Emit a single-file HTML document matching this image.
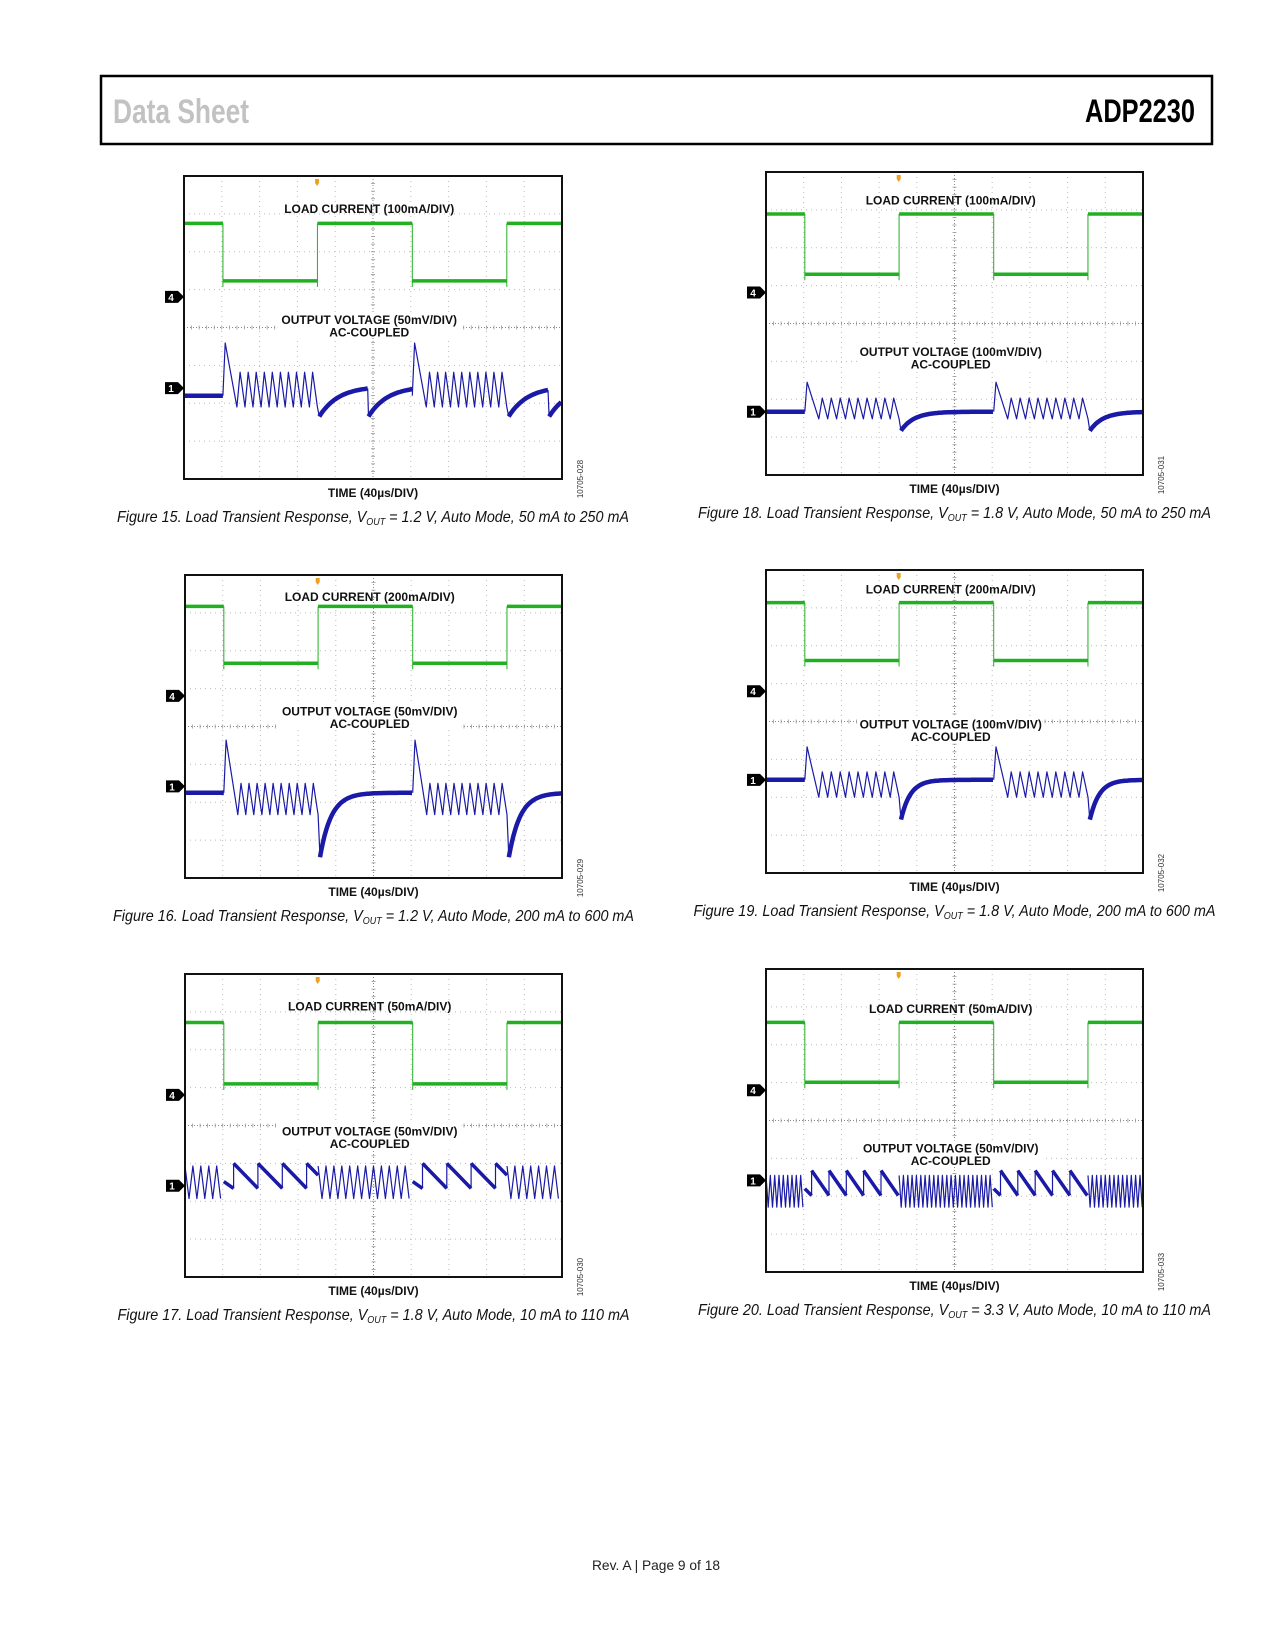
<!DOCTYPE html>
<html><head><meta charset="utf-8"><title>ADP2230 Data Sheet page 9</title>
<style>
html,body{margin:0;padding:0;background:#fff;}
svg{display:block;}
</style></head>
<body>
<svg id="page" width="1275" height="1650" viewBox="0 0 1275 1650">
  <rect x="0" y="0" width="1275" height="1650" fill="#fff"/>
  <rect x="101" y="76" width="1111" height="68" fill="none" stroke="#000" stroke-width="2.5"/>
  <text x="113" y="123" font-family="Liberation Sans, sans-serif" font-weight="bold" font-size="34" fill="#c2c2c2" textLength="136" lengthAdjust="spacingAndGlyphs">Data Sheet</text>
  <text x="1085" y="122" font-family="Liberation Sans, sans-serif" font-weight="bold" font-size="32" fill="#000" textLength="110" lengthAdjust="spacingAndGlyphs">ADP2230</text>
  <text x="592" y="1570" font-family="Liberation Sans, sans-serif" font-size="14" fill="#222" textLength="128" lengthAdjust="spacingAndGlyphs">Rev. A | Page 9 of 18</text>
</svg>
<script>
// ---- chart data (divisions: time 0..10, vertical 0..8 from top) ----
const figIds = ['15', '16', '17', '18', '19', '20'];
const vout = ['1.2', '1.2', '1.8', '1.8', '1.8', '3.3'];
const loadRange = ['50 mA to 250 mA', '200 mA to 600 mA', '10 mA to 110 mA', '50 mA to 250 mA', '200 mA to 600 mA', '10 mA to 110 mA'];
const currentScale = ['100mA/DIV', '200mA/DIV', '50mA/DIV', '100mA/DIV', '200mA/DIV', '50mA/DIV'];
const voltScale = ['50mV/DIV', '50mV/DIV', '50mV/DIV', '100mV/DIV', '100mV/DIV', '50mV/DIV'];
const serials = ['10705-028', '10705-029', '10705-030', '10705-031', '10705-032', '10705-033'];
const edgeTimes = [1.03, 3.53, 6.04, 8.54];
const currentHigh = [1.25, 0.83, 1.28, 1.11, 0.86, 1.41];
const currentLow = [2.77, 2.33, 2.9, 2.70, 2.39, 2.99];
const ch4Level = [3.19, 3.19, 3.19, 3.18, 3.2, 3.2];
const ch1Level = [5.6, 5.58, 5.59, 6.33, 5.54, 5.58];
const mode = ['auto', 'auto', 'pfm', 'auto', 'auto', 'pfm'];
const voltBase = [5.8, 5.75, 5.5, 6.33, 5.54, 5.6];
const spikePeak = [4.41, 4.36, 0, 5.55, 4.67, 0];
const rippleTop = [5.18, 5.5, 5.07, 5.97, 5.33, 5.45];
const rippleBot = [6.1, 6.33, 5.93, 6.52, 6.0, 6.29];
const rippleCount = [10, 10, 0, 9, 9, 0];
const ripplePeriod = [0, 0, 0.21, 0, 0, 0.115];
const dipDepth = [6.35, 7.45, 0, 6.83, 6.59, 0];
const settleLevel = [5.55, 5.75, 0, 6.33, 5.54, 0];
const settleTau = [0.5, 0.3, 0, 0.35, 0.25, 0];
const resetOffsets = [[1.35, 1.12], [], [], [], [], []];
const sawTop = [0, 0, 5.0, 0, 0, 5.32];
const sawBot = [0, 0, 5.66, 0, 0, 5.98];
const sawSpacing = [0, 0, 0.645, 0, 0, 0.46];
const sawOffset = [0, 0, 0.26, 0, 0, 0.18];

// ---- layout (pixels) ----
const layout = [
  {x: 184, y: 176, w: 378, h: 303, loadY: 0.87, outY: 3.8, capW: 512},
  {x: 185, y: 575, w: 377, h: 303, loadY: 0.58, outY: 3.6, capW: 521},
  {x: 185, y: 974, w: 377, h: 303, loadY: 0.86, outY: 4.16, capW: 512},
  {x: 766, y: 172, w: 377, h: 303, loadY: 0.75, outY: 4.75, capW: 513},
  {x: 766, y: 570, w: 377, h: 303, loadY: 0.51, outY: 4.08, capW: 522},
  {x: 766, y: 969, w: 377, h: 303, loadY: 1.05, outY: 4.74, capW: 513}
];

const NS = 'http://www.w3.org/2000/svg';
const page = document.getElementById('page');
function mk(tag, attrs, parent) {
  const e = document.createElementNS(NS, tag);
  for (const k in attrs) e.setAttribute(k, attrs[k]);
  (parent || page).appendChild(e);
  return e;
}
const GREEN = '#22b022', BLUE = '#1a1aa6';

function drawFigure(i) {
  const L = layout[i];
  const X = t => L.x + t * L.w / 10;
  const Y = v => L.y + v * L.h / 8;
  const g = mk('g', {});
  
  

  for (let k = 1; k < 10; k++) {
    const gl = mk('line', {x1: X(k), x2: X(k), y1: L.y, y2: L.y + L.h, stroke: k === 5 ? '#888' : '#bbb', 'stroke-width': 1, 'stroke-dasharray': k === 5 ? '1 2' : '1 4'}, g);
    
    
  }
  for (let k = 1; k < 8; k++) {
    const gl = mk('line', {x1: L.x, x2: L.x + L.w, y1: Y(k), y2: Y(k), stroke: k === 4 ? '#888' : '#bbb', 'stroke-width': 1, 'stroke-dasharray': k === 4 ? '1 2' : '1 4'}, g);
    
    
  }
  for (let k = 1; k < 50; k++) {
    mk('line', {x1: X(k / 5), x2: X(k / 5), y1: Y(4) - 2, y2: Y(4) + 2, stroke: '#999', 'stroke-width': 0.8}, g);
  }
  for (let k = 1; k < 40; k++) {
    mk('line', {x1: X(5) - 2, x2: X(5) + 2, y1: Y(k / 5), y2: Y(k / 5), stroke: '#999', 'stroke-width': 0.8}, g);
  }

  const trig = mk('path', {d: `M${X(3.52) - 2},${L.y + 3} h4 v4 l-2,3 l-2,-3 z`, fill: '#f0a020'}, g);
  
  

  function label(txt, v, name) {
    const t = mk('text', {x: X(4.9), y: Y(v) + 4, 'text-anchor': 'middle', 'font-family': 'Liberation Sans, sans-serif', 'font-weight': 'bold', 'font-size': 12, fill: '#111'}, g);
    t.textContent = txt;
    
    
    return t;
  }
  mk('rect', {x: X(4.9) - 92, y: Y(L.outY) - 8, width: 184, height: 26, fill: '#fff'}, g);
  label('LOAD CURRENT (' + currentScale[i] + ')', L.loadY, 'load-current-label');
  label('OUTPUT VOLTAGE (' + voltScale[i] + ')', L.outY, 'output-voltage-label');
  label('AC-COUPLED', L.outY + 0.33, 'ac-coupled-label');

  // current trace
  const pts = [[0, currentHigh[i]]];
  let hi = true;
  edgeTimes.forEach(e => {
    const from = hi ? currentHigh[i] : currentLow[i];
    const to = hi ? currentLow[i] : currentHigh[i];
    pts.push([e, from]);
    pts.push([e, to]);
    hi = !hi;
  });
  pts.push([10, currentHigh[i]]);
  let levels = '';
  for (let k = 0; k < pts.length; k += 2) {
    levels += `M${X(pts[k][0])},${Y(pts[k][1])} L${X(pts[k + 1][0])},${Y(pts[k + 1][1])} `;
  }
  const edges = edgeTimes.map(e => `M${X(e)},${Y(currentHigh[i])} L${X(e)},${Y(currentLow[i]) + 6}`).join(' ');
  const ce = mk('path', {d: edges, stroke: GREEN, 'stroke-width': 1, fill: 'none'}, g);
  
  
  const ct = mk('path', {d: levels, stroke: GREEN, 'stroke-width': 3.5, fill: 'none'}, g);
  
  

  // voltage trace
  const thin = [], thick = [];
  const segEnd = k => (k + 1 < edgeTimes.length ? edgeTimes[k + 1] : 10);
  if (mode[i] === 'auto') {
    thick.push([[0, voltBase[i]], [edgeTimes[0], voltBase[i]]]);
    for (let k = 0; k < edgeTimes.length; k += 2) {
      const a = edgeTimes[k], b = edgeTimes[k + 1], c = segEnd(k + 1);
      const p = [[a, voltBase[i]], [a + 0.06, spikePeak[i]], [a + 0.37, rippleBot[i]]];
      const span = (b - a - 0.37) / rippleCount[i];
      for (let n = 0; n < rippleCount[i]; n++) {
        const s = a + 0.37 + n * span;
        p.push([s + span * 0.4, rippleTop[i]]);
        p.push([s + span, rippleBot[i]]);
      }
      p.push([b + 0.05, dipDepth[i]]);
      thin.push(p);
      const resets = [b + 0.05].concat(resetOffsets[i][k / 2] !== undefined ? [b + resetOffsets[i][k / 2]] : []);
      resets.forEach((r0, ri) => {
        const r1 = ri + 1 < resets.length ? resets[ri + 1] : c;
        const rp = [];
        for (let t = r0; t <= r1 + 1e-6; t += 0.04) {
          rp.push([t, settleLevel[i] + (dipDepth[i] - settleLevel[i]) * Math.exp(-(t - r0) / settleTau[i])]);
        }
        thick.push(rp);
        if (ri + 1 < resets.length) thin.push([rp[rp.length - 1], [r1, dipDepth[i]]]);
      });
    }
  } else {
    const tri = (a, b) => {
      const p = [];
      let up = true;
      for (let t = a; t <= b; t += ripplePeriod[i] / 2) {
        p.push([t, up ? rippleTop[i] : rippleBot[i]]);
        up = !up;
      }
      return p;
    };
    thin.push(tri(0, edgeTimes[0]));
    for (let k = 0; k < edgeTimes.length; k += 2) {
      const a = edgeTimes[k], b = edgeTimes[k + 1], c = segEnd(k + 1);
      const sp = sawSpacing[i];
      const mid = (sawTop[i] + sawBot[i]) / 2 + 0.15;
      thick.push([[a, mid], [a + sawOffset[i], sawBot[i]]]);
      for (let t = a + sawOffset[i]; t < b - 0.02; t += sp) {
        const end = Math.min(t + sp, b);
        thin.push([[t, sawBot[i]], [t, sawTop[i]]]);
        thick.push([[t, sawTop[i]], [end, sawTop[i] + (sawBot[i] - sawTop[i]) * (end - t) / sp]]);
      }
      thin.push(tri(b, c));
    }
  }
  const toD = arr => arr.map(p => p.map((q, n) => (n ? 'L' : 'M') + X(q[0]).toFixed(1) + ',' + Y(q[1]).toFixed(1)).join(' ')).join(' ');
  const vt1 = mk('path', {d: toD(thin), stroke: BLUE, 'stroke-width': 1.2, fill: 'none', 'stroke-linejoin': 'round'}, g);
  
  
  const vt2 = mk('path', {d: toD(thick), stroke: BLUE, 'stroke-width': mode[i] === 'auto' ? 4.5 : 3.5, fill: 'none'}, g);
  
  

  const fr = mk('rect', {x: L.x, y: L.y, width: L.w, height: L.h, fill: 'none', stroke: '#111', 'stroke-width': 2}, g);
  
  

  [[ch4Level[i], '4'], [ch1Level[i], '1']].forEach(m => {
    const yy = Y(m[0]);
    const mg = mk('g', {}, g);
    
    
    mk('path', {d: `M${L.x - 19},${yy - 6} h13 l6,6 l-6,6 h-13 z`, fill: '#000'}, mg);
    const t = mk('text', {x: L.x - 13, y: yy + 4, 'text-anchor': 'middle', 'font-family': 'Liberation Sans, sans-serif', 'font-weight': 'bold', 'font-size': 10, fill: '#fff'}, mg);
    t.textContent = m[1];
  });

  const tl = mk('text', {x: L.x + L.w / 2, y: L.y + L.h + 18, 'text-anchor': 'middle', 'font-family': 'Liberation Sans, sans-serif', 'font-weight': 'bold', 'font-size': 12, fill: '#111'}, g);
  tl.textContent = 'TIME (40µs/DIV)';
  
  

  const sx = L.x + L.w + 21, sy = L.y + L.h;
  const sn = mk('text', {x: sx, y: sy, 'text-anchor': 'middle', transform: `rotate(-90 ${sx} ${sy})`, 'font-family': 'Liberation Sans, sans-serif', 'font-size': 8, fill: '#333'}, g);
  sn.textContent = serials[i];
  
  

  const cap = mk('text', {x: L.x + L.w / 2 - L.capW / 2, y: L.y + L.h + 43, 'font-family': 'Liberation Sans, sans-serif', 'font-style': 'italic', 'font-size': 16, fill: '#111', textLength: L.capW, lengthAdjust: 'spacingAndGlyphs'}, g);
  
  
  const t1 = mk('tspan', {}, cap); t1.textContent = 'Figure ' + figIds[i] + '. Load Transient Response, V';
  const t2 = mk('tspan', {'font-size': 10, dy: 3}, cap); t2.textContent = 'OUT';
  const t3 = mk('tspan', {dy: -3}, cap); t3.textContent = ' = ' + vout[i] + ' V, Auto Mode, ' + loadRange[i];
}
for (let i = 0; i < figIds.length; i++) drawFigure(i);
</script>
</body></html>
